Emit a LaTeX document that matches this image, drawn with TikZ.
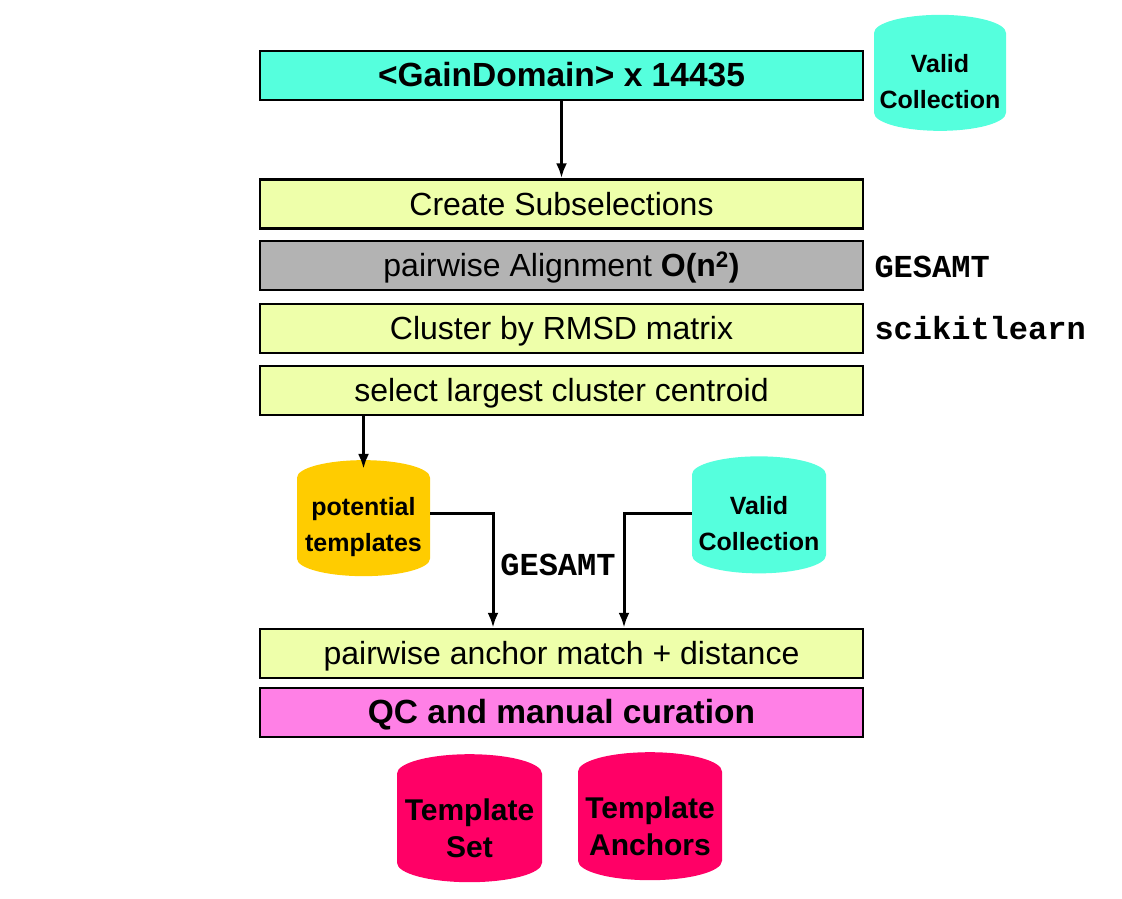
\documentclass[tikz,border=0pt]{standalone}
\usepackage{fontspec}
\setmainfont{Liberation Sans}
\newfontfamily\toolmono{Liberation Mono}
\usetikzlibrary{arrows.meta, shapes.geometric, positioning}
\definecolor{gaincyan}{RGB}{85,255,221}
\definecolor{stepyellow}{RGB}{238,255,170}
\definecolor{stepgray}{RGB}{179,179,179}
\definecolor{qcpink}{RGB}{255,128,230}
\definecolor{potorange}{RGB}{255,204,0}
\definecolor{tplred}{RGB}{255,0,102}
\newcommand{\stepfont}{\fontsize{32}{36}\selectfont}
\newcommand{\stepbffont}{\fontsize{33.5}{36}\selectfont\bfseries}
\newcommand{\dbfont}{\fontsize{25}{36}\selectfont\bfseries}
\newcommand{\dbbigfont}{\fontsize{30}{37}\selectfont\bfseries}
\newcommand{\toolfont}{\fontsize{32}{36}\selectfont\toolmono\bfseries}

\begin{document}
\begin{tikzpicture}[x=1pt, y=-1pt,
    stepbox/.style = {draw, line width=2.5pt, minimum width=603pt, minimum height=49pt,
                      inner sep=0pt, text height=22pt, text depth=0pt,
                      font=\stepfont, fill=stepyellow},
    db/.style      = {cylinder, shape border rotate=90, aspect=0.3, draw=none,
                      align=center, inner sep=0pt, font=\dbfont},
    arr/.style     = {line width=3pt, -{Latex[length=15pt, width=11pt]}}]
    \useasboundingbox (0,0) rectangle (1122,898);

    % processing steps
    \node[stepbox, fill=gaincyan, font=\stepbffont] (gain) at (561.5,75.5) {<GainDomain> x 14435};
    \node[stepbox] (subsel)   at (561.5,204)   {Create Subselections};
    \node[stepbox, fill=stepgray] (align) at (561.5,265.5) {pairwise Alignment \textbf{O(n\textsuperscript{2})}};
    \node[stepbox] (cluster)  at (561.5,328.5) {Cluster by RMSD matrix};
    \node[stepbox] (centroid) at (561.5,390.5) {select largest cluster centroid};
    \node[stepbox] (match)    at (561.5,653.5) {pairwise anchor match + distance};
    \node[stepbox, fill=qcpink, font=\stepbffont] (qc) at (561.5,712.5) {QC and manual curation};

    % tools
    \node[anchor=base west, font=\toolfont] (gesamt1) at (871,277) {GESAMT};
    \node[anchor=base west, font=\toolfont] (sklearn) at (871,339) {scikitlearn};
    \node[anchor=base, font=\toolfont] (gesamt2) at (558,575) {GESAMT};

    % data
    \node[db, fill=gaincyan, minimum width=132pt, minimum height=116pt] (valid1) at (940,82) {Valid\\Collection};
    \node[db, fill=potorange, minimum width=133pt, minimum height=116pt] (pot) at (363.5,527) {potential\\templates};
    \node[db, fill=gaincyan, minimum width=134pt, minimum height=117pt] (valid2) at (759,524) {Valid\\Collection};
    \node[db, fill=tplred, font=\dbbigfont, minimum width=145pt, minimum height=128pt] (tplset) at (469.5,828) {Template\\Set};
    \node[db, fill=tplred, font=\dbbigfont, minimum width=144pt, minimum height=128pt] (tplanch) at (650,826) {Template\\Anchors};

    % connectors
    \draw[arr] (gain) -- (subsel);
    \draw[arr] (centroid.south -| pot.north) -- ([yshift=-9pt]pot.north);
    \draw[arr] ([yshift=14pt]pot.east) -| ([xshift=-68.5pt]match.north);
    \draw[arr] ([yshift=11pt]valid2.west) -| ([xshift=62.5pt]match.north);
\end{tikzpicture}
\end{document}
